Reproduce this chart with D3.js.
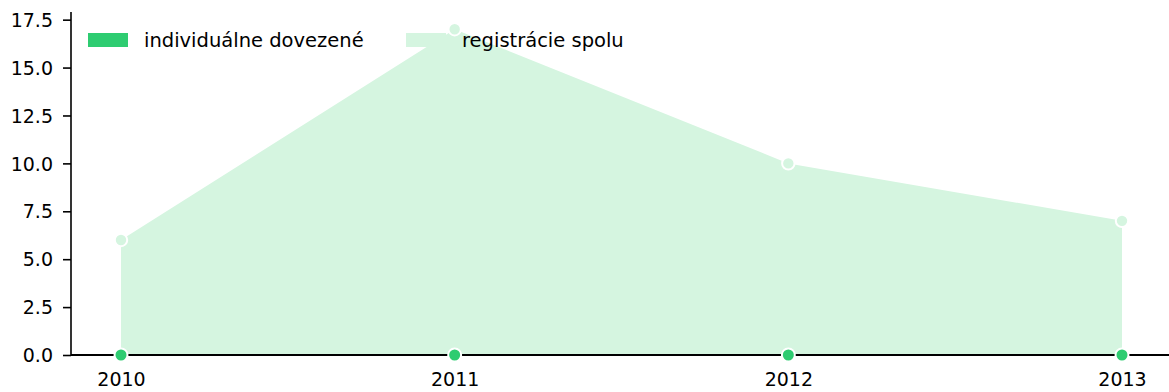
<!DOCTYPE html>
<html>
<head>
<meta charset="utf-8">
<script src="https://cdn.jsdelivr.net/npm/d3@7"></script>
<style>
  body { margin: 0; background: #fff; }
  svg { display: block; font-family: "DejaVu Sans", sans-serif; }
</style>
</head>
<body>
<svg id="chart" width="1169" height="392"></svg>
<script>
// Years on the x axis
const years = [2010, 2011, 2012, 2013];
// Individually imported vehicles
const individual = [0, 0, 0, 0];
// Total registrations
const totalRegistrations = [6, 17, 10, 7];
// Y axis tick values
const yTicks = [0, 2.5, 5, 7.5, 10, 12.5, 15, 17.5];
const seriesNames = ["individuálne dovezené", "registrácie spolu"];
const colors = ["#2ecc71", "#d5f5e0"];

const svg = d3.select("#chart");
const plotLeft = 71, plotRight = 1169, plotTop = 12, plotBottom = 355;

const x = d3.scaleLinear().domain([2010, 2013]).range([121, 1122]);
const y = d3.scaleLinear().domain([0, 17.9]).range([plotBottom, plotTop]);

// Total registrations area
const area = d3.area()
  .x((d, i) => x(years[i]))
  .y0(y(0))
  .y1(d => y(d));

svg.append("path")
  .datum(totalRegistrations)
  .attr("d", area)
  .attr("fill", colors[1]);

// Individual imports area (zero height)
svg.append("path")
  .datum(individual)
  .attr("d", area)
  .attr("fill", colors[0])
  .attr("stroke", colors[0])
  .attr("stroke-width", 1);

// Axes
const yAxis = d3.axisLeft(y).tickValues(yTicks).tickFormat(d3.format(".1f")).tickSize(8).tickPadding(10);
const gy = svg.append("g").attr("transform", `translate(${plotLeft},0)`).call(yAxis);
gy.select(".domain").attr("d", `M0,${plotTop}V${plotBottom}`).attr("stroke", "#000").attr("stroke-width", 1.6);
gy.selectAll(".tick line").attr("stroke", "#000").attr("stroke-width", 1.6);
gy.selectAll(".tick text").attr("font-size", 19).attr("fill", "#000").attr("dy", "0.35em").attr("font-family", "DejaVu Sans");

const xAxis = d3.axisBottom(x).tickValues(years).tickFormat(d3.format("d")).tickSize(0).tickPadding(18);
const gx = svg.append("g").attr("transform", `translate(0,${plotBottom})`).call(xAxis);
gx.select(".domain").attr("d", `M${plotLeft},0H${plotRight}`).attr("stroke", "#000").attr("stroke-width", 1.8);
gx.selectAll(".tick text").attr("font-size", 19).attr("fill", "#000").attr("font-family", "DejaVu Sans");

// Markers
svg.append("g").selectAll("circle")
  .data(totalRegistrations)
  .join("circle")
  .attr("cx", (d, i) => x(years[i]))
  .attr("cy", d => y(d))
  .attr("r", 6.2)
  .attr("fill", colors[1])
  .attr("stroke", "#fff")
  .attr("stroke-width", 2);

svg.append("g").selectAll("circle")
  .data(individual)
  .join("circle")
  .attr("cx", (d, i) => x(years[i]))
  .attr("cy", d => y(d))
  .attr("r", 6.5)
  .attr("fill", colors[0])
  .attr("stroke", "#fff")
  .attr("stroke-width", 2);

// Legend
const legendX = [88, 406];
const legend = svg.append("g").selectAll("g")
  .data(seriesNames)
  .join("g")
  .attr("transform", (d, i) => `translate(${legendX[i]},33)`);
legend.append("rect")
  .attr("width", 40).attr("height", 14)
  .attr("fill", (d, i) => colors[i]);
legend.append("text")
  .attr("x", 56).attr("y", 14)
  .attr("font-size", 19.5)
  .attr("fill", "#000")
  .text(d => d);
</script>
</body>
</html>
